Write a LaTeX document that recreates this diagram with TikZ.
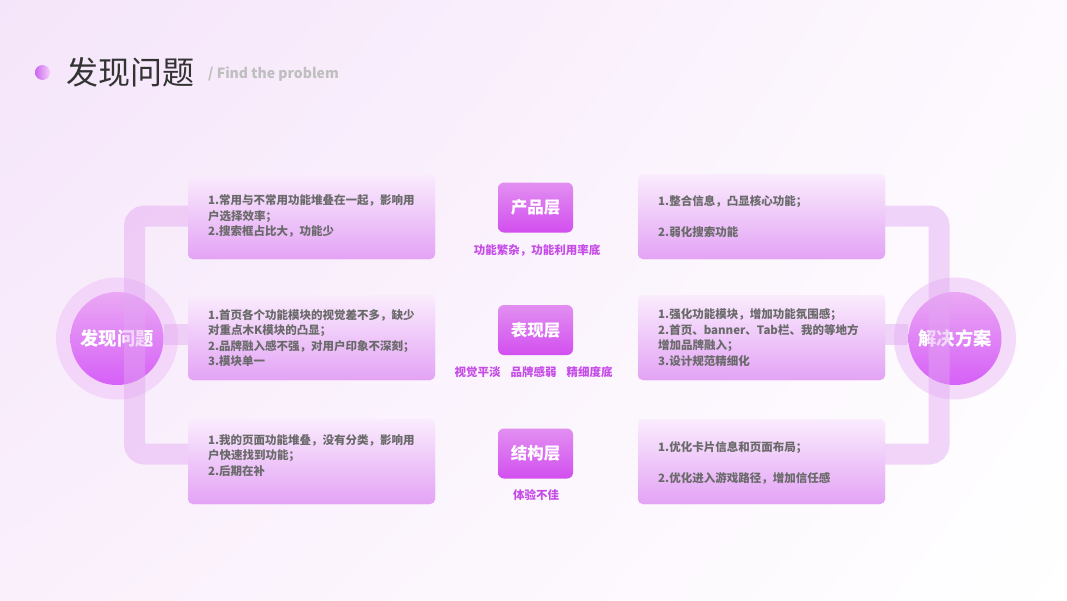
\documentclass[tikz,border=0pt]{standalone}
\usepackage{fontspec}
\setmainfont{Noto Sans CJK SC}
\usetikzlibrary{shadings}
\definecolor{bgA}{HTML}{F5E5FA}
\definecolor{bgB}{HTML}{FDF9FE}
\definecolor{bgC}{HTML}{FAF0FC}
\definecolor{dotL}{HTML}{CC66F0}
\definecolor{dotR}{HTML}{F4CFF9}
\definecolor{titleC}{HTML}{333333}
\definecolor{subC}{HTML}{BFBFBF}
\definecolor{ringC}{HTML}{EFC6F8}
\definecolor{cirT}{HTML}{EAA8F4}
\definecolor{cirB}{HTML}{D660F7}
\definecolor{bandC}{HTML}{E2A6F2}
\definecolor{boxT}{HTML}{FAECFD}
\definecolor{boxB}{HTML}{E3A3F5}
\definecolor{txtC}{HTML}{6A6A6A}
\definecolor{layT}{HTML}{E28FF1}
\definecolor{layB}{HTML}{D24FEF}
\definecolor{capC}{HTML}{C64CE8}
\tikzset{
  band/.style={draw=bandC, draw opacity=0.45, line width=21pt, rounded corners=10pt},
  ring/.style={circle, minimum size=122pt, inner sep=0pt, fill=ringC, fill opacity=0.6},
  core/.style={circle, minimum size=93pt, inner sep=0pt, top color=cirT, bottom color=cirB,
    text=white, font=\fontsize{18.3}{18}\selectfont\bfseries},
  infobox/.style={rectangle, rounded corners=5pt, minimum width=247pt, minimum height=85pt,
    inner sep=0pt, top color=boxT, bottom color=boxB},
  boxtxt/.style={anchor=west, align=left, inner sep=0pt, text=txtC,
    font=\fontsize{11.5}{15.5}\selectfont\bfseries},
  layer/.style={rectangle, rounded corners=6pt, minimum width=75pt, minimum height=50pt,
    inner sep=0pt, top color=layT, bottom color=layB, text=white,
    font=\fontsize{16.5}{16.5}\selectfont\bfseries},
  caption/.style={inner sep=0pt, text=capC, font=\fontsize{11.5}{12}\selectfont\bfseries}
}
\begin{document}
\begin{tikzpicture}[x=1pt,y=-1pt]
\useasboundingbox (0,0) rectangle (1067,600);
\shade[upper left=bgA, upper right=bgB, lower left=bgC, lower right=white] (0,0) rectangle (1067,600);

% title
\node[circle, minimum size=15pt, inner sep=0pt, left color=dotL, right color=dotR] (dot) at (42.5,72.5) {};
\node[anchor=west, inner sep=0pt, text=titleC, font=\fontsize{32}{32}\selectfont] (title) at (66,72) {发现问题};
\node[anchor=west, inner sep=0pt, text=subC, font=\fontsize{14}{15}\selectfont\bfseries] (sub) at (208,74.5) {/ Find the problem};

% circles
\node[ring] (lring) at (117,338.5) {};
\node[core] (lc) at (117,338.5) {发现问题};
\node[ring] (rring) at (955,338.5) {};
\node[core] (rc) at (955,338.5) {解决方案};

% helper coordinates for band heights
\coordinate (yTop) at (0,216);
\coordinate (yMid) at (0,334);
\coordinate (yBot) at (0,454);
\coordinate (xL) at (134.5,0);
\coordinate (xR) at (939,0);

% boxes (positions first for naming)
\path (311.5,216.5) node[infobox] (lb1) {};
\path (311.5,337.5) node[infobox] (lb2) {};
\path (311.5,461.5) node[infobox] (lb3) {};
\path (761.5,216.5) node[infobox] (rb1) {};
\path (761.5,337.5) node[infobox] (rb2) {};
\path (761.5,461.5) node[infobox] (rb3) {};

% bands
\draw[band] ([xshift=10pt]lb1.west |- yTop) -- (xL |- yTop) -- (xL |- yBot) -- ([xshift=10pt]lb3.west |- yBot);
\draw[band] (lc.east |- yMid) -- ([xshift=10pt]lb2.west |- yMid);
\draw[band] ([xshift=-10pt]rb1.east |- yTop) -- (xR |- yTop) -- (xR |- yBot) -- ([xshift=-10pt]rb3.east |- yBot);
\draw[band] (rc.west |- yMid) -- ([xshift=-10pt]rb2.east |- yMid);

% redraw boxes on top
\path (311.5,216.5) node[infobox] {};
\path (311.5,337.5) node[infobox] {};
\path (311.5,461.5) node[infobox] {};
\path (761.5,216.5) node[infobox] {};
\path (761.5,337.5) node[infobox] {};
\path (761.5,461.5) node[infobox] {};

% box texts
\node[boxtxt] (t1) at (208,216) {1.常用与不常用功能堆叠在一起，影响用\\户选择效率；\\2.搜索框占比大，功能少};
\node[boxtxt] (t2) at (208,338) {1.首页各个功能模块的视觉差不多，缺少\\对重点木K模块的凸显；\\2.品牌融入感不强，对用户印象不深刻；\\3.模块单一};
\node[boxtxt] (t3) at (208,455.5) {1.我的页面功能堆叠，没有分类，影响用\\户快速找到功能；\\2.后期在补};
\node[boxtxt] (t4) at (658,216.5) {1.整合信息，凸显核心功能；\\[15.5pt]2.弱化搜索功能};
\node[boxtxt] (t5) at (658,337.5) {1.强化功能模块，增加功能氛围感；\\2.首页、banner、Tab栏、我的等地方\\增加品牌融入；\\3.设计规范精细化};
\node[boxtxt] (t6) at (658,463) {1.优化卡片信息和页面布局；\\[15.5pt]2.优化进入游戏路径，增加信任感};

% layers
\node[layer] (l1) at (535.5,207.5) {产品层};
\node[caption] (c1) at (537,250) {功能繁杂，功能利用率底};
\node[layer] (l2) at (535.5,330) {表现层};
\node[caption] (c2) at (533.5,372) {视觉平淡\hspace{10pt}品牌感弱\hspace{10pt}精细度底};
\node[layer] (l3) at (535.5,453.5) {结构层};
\node[caption] (c3) at (536,495) {体验不佳};
\end{tikzpicture}
\end{document}
